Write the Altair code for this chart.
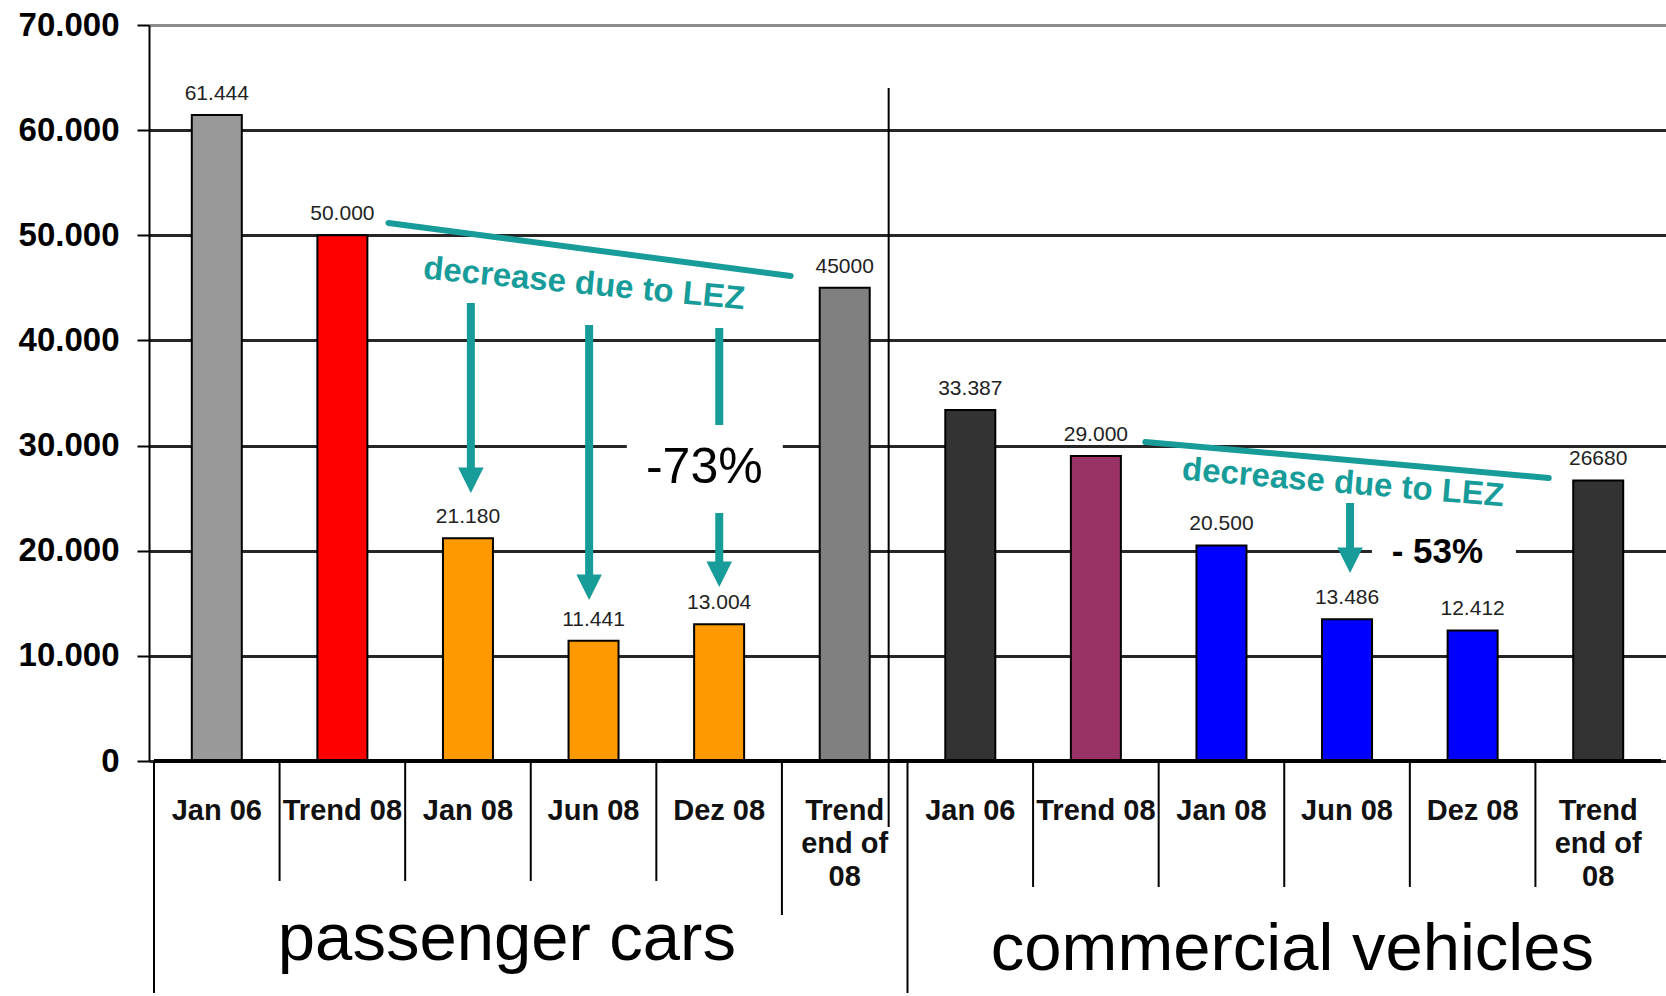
import altair as alt
import pandas as pd

# ---------------- data ----------------
groups = ["passenger cars"] * 6 + ["commercial vehicles"] * 6
categories = ["Jan 06", "Trend 08", "Jan 08", "Jun 08", "Dez 08", "Trend\nend of\n08",
              "Jan 06", "Trend 08", "Jan 08", "Jun 08", "Dez 08", "Trend\nend of\n08"]
values = [61444, 50000, 21180, 11441, 13004, 45000,
          33387, 29000, 20500, 13486, 12412, 26680]
value_labels = ["61.444", "50.000", "21.180", "11.441", "13.004", "45000",
                "33.387", "29.000", "20.500", "13.486", "12.412", "26680"]
bar_colors = ["#999999", "#FF0000", "#FF9900", "#FF9900", "#FF9900", "#808080",
              "#333333", "#993366", "#0000FF", "#0000FF", "#0000FF", "#333333"]
y_ticks = [0, 10000, 20000, 30000, 40000, 50000, 60000, 70000]

group_names = ["passenger cars", "commercial vehicles"]
group_x = [2.81, 9.065]
group_y = [-18930, -19880]

# separators below the axis (x position, lower end)
sep_x = [0, 1, 2, 3, 4, 5, 6, 7, 8, 9, 10, 11]
sep_bottom = [-22070, -11410, -11410, -11410, -11410, -14650, -22070,
              -11980, -11980, -11980, -11980, -11980]
divider_x = [5.85]
divider_top = [64000]
divider_bottom = [-6270]

# annotations
trend_x = [1.867, 7.894]
trend_y = [51170, 30340]
trend_x2 = [5.07, 11.106]
trend_y2 = [46130, 26920]
note_text = ["decrease due to LEZ", "decrease due to LEZ"]
note_x = [3.425, 9.468]
note_y = [45370, 26440]
note_angle = [5.5, 4.75]
arrow_x = [2.523, 3.465, 4.501, 9.524]
arrow_start = [43560, 41470, 23590, 24540]
arrow_shaft_end = [26700, 16500, 17700, 19000]
arrow_tip = [25490, 15310, 16550, 17880]
stub_x = [4.501]
stub_start = [41180]
stub_end = [31960]
pct_text = ["-73%", "- 53%"]
pct_x = [4.382, 10.22]
pct_y = [27870, 19880]
pct_weight = ["normal", "bold"]
gap_x = [3.765, 9.698]
gap_x2 = [5.007, 10.845]
gap_y = [30000, 20000]

TEAL = "#179c9a"
SANS = "Liberation Sans, Arial"

# ---------------- tables ----------------
bars = pd.DataFrame({
    "group": groups, "cat": categories, "value": values,
    "label": value_labels, "color": bar_colors,
    "pos": [i + 0.5 for i in range(len(values))],
})
seps = pd.DataFrame({"x": sep_x, "y": [0] * len(sep_x), "y2": sep_bottom})
divider = pd.DataFrame({"x": divider_x, "y": divider_top, "y2": divider_bottom})
trend = pd.DataFrame({"x": trend_x, "y": trend_y, "x2": trend_x2, "y2": trend_y2})
notes = pd.DataFrame({"t": note_text, "x": note_x, "y": note_y, "a": note_angle})
arrows = pd.DataFrame({"x": arrow_x, "y": arrow_start, "y2": arrow_shaft_end, "tip": arrow_tip})
stubs = pd.DataFrame({"x": stub_x, "y": stub_start, "y2": stub_end})
pcts = pd.DataFrame({"t": pct_text, "x": pct_x, "y": pct_y, "w": pct_weight})
gaps = pd.DataFrame({"x": gap_x, "x2": gap_x2, "y": [v - 330 for v in gap_y], "y2": [v + 330 for v in gap_y]})
glabels = pd.DataFrame({"t": group_names, "x": group_x, "y": group_y})
zero = pd.DataFrame({"x": [0], "x2": [12], "y": [0]})

xs = alt.Scale(domain=[0, 12], nice=False, zero=False)
ys = alt.Scale(domain=[0, 70000], nice=False)

y_axis = alt.Axis(
    values=y_ticks, title=None,
    labelExpr="replace(format(datum.value, ','), ',', '.')",
    labelFont=SANS, labelFontSize=33, labelFontWeight="bold", labelColor="black",
    labelPadding=18, tickSize=12, tickWidth=2, tickColor="black",
    domainColor="black", domainWidth=2,
    grid=True, gridWidth=3,
    gridColor={"condition": {"test": "datum.value === 70000", "value": "#8c8c8c"}, "value": "#262626"},
)


def X(f="x"):
    return alt.X(f"{f}:Q", scale=xs, axis=None)


def Y(f="y"):
    return alt.Y(f"{f}:Q", scale=ys, axis=y_axis)


bar_layer = alt.Chart(bars).mark_bar(size=50, stroke="black", strokeWidth=2).encode(
    x=X("pos"), y=Y("value"), color=alt.Color("color:N", scale=None),
)

value_text = alt.Chart(bars).mark_text(
    font=SANS, fontSize=21, color="#222222", baseline="alphabetic", dy=-15
).encode(x=X("pos"), y=Y("value"), text="label:N")

cat_text = alt.Chart(bars).transform_calculate(yy="-5610").mark_text(
    font=SANS, fontSize=29, fontWeight="bold", color="#111111",
    baseline="alphabetic", lineBreak="\n", lineHeight=33
).encode(x=X("pos"), y=Y("yy"), text="cat:N")

sep_layer = alt.Chart(seps).mark_rule(color="black", strokeWidth=2).encode(x=X(), y=Y(), y2="y2:Q")
div_layer = alt.Chart(divider).mark_rule(color="black", strokeWidth=2).encode(x=X(), y=Y(), y2="y2:Q")
zero_layer = alt.Chart(zero).mark_rule(color="black", strokeWidth=4).encode(x=X(), x2="x2:Q", y=Y())

gap_layer = alt.Chart(gaps).mark_rect(color="white").encode(x=X(), x2="x2:Q", y=Y(), y2="y2:Q")

trend_layer = alt.Chart(trend).mark_rule(color=TEAL, strokeWidth=6, strokeCap="round").encode(
    x=X(), x2="x2:Q", y=Y(), y2="y2:Q")
note_layer = alt.Chart(notes).mark_text(
    font=SANS, fontSize=33, fontWeight="bold", color=TEAL, baseline="middle", align="center"
).encode(x=X(), y=Y(), text="t:N", angle=alt.Angle("a:Q", scale=None))

shaft_layer = alt.Chart(arrows).mark_rule(color=TEAL, strokeWidth=8).encode(x=X(), y=Y(), y2="y2:Q")
stub_layer = alt.Chart(stubs).mark_rule(color=TEAL, strokeWidth=8).encode(x=X(), y=Y(), y2="y2:Q")
head_layer = alt.Chart(arrows).mark_point(
    shape="M-1,-2L1,-2L0,0Z", size=650, filled=True, color=TEAL, opacity=1, strokeWidth=0
).encode(x=X(), y=Y("tip"))

pct_a = alt.Chart(pcts.iloc[[0]]).mark_text(
    font=SANS, fontSize=50, color="black", baseline="middle", align="center"
).encode(x=X(), y=Y(), text="t:N")
pct_b = alt.Chart(pcts.iloc[[1]]).mark_text(
    font=SANS, fontSize=35, fontWeight="bold", color="black", baseline="middle", align="center"
).encode(x=X(), y=Y(), text="t:N")

group_layer = alt.Chart(glabels).mark_text(
    font=SANS, fontSize=67, color="black", baseline="alphabetic", align="center"
).encode(x=X(), y=Y(), text="t:N")

chart = alt.layer(
    bar_layer, zero_layer, sep_layer, div_layer, gap_layer, value_text, cat_text,
    trend_layer, note_layer, shaft_layer, stub_layer, head_layer, pct_a, pct_b, group_layer,
).properties(
    width=1517, height=736,
    padding={"left": 149, "top": 25, "right": 0, "bottom": 235},
    autosize=alt.AutoSizeParams(type="none"),
    background="white",
).configure_view(stroke=None)

chart.save("out.html", embed_options={"renderer": "svg", "actions": False})
